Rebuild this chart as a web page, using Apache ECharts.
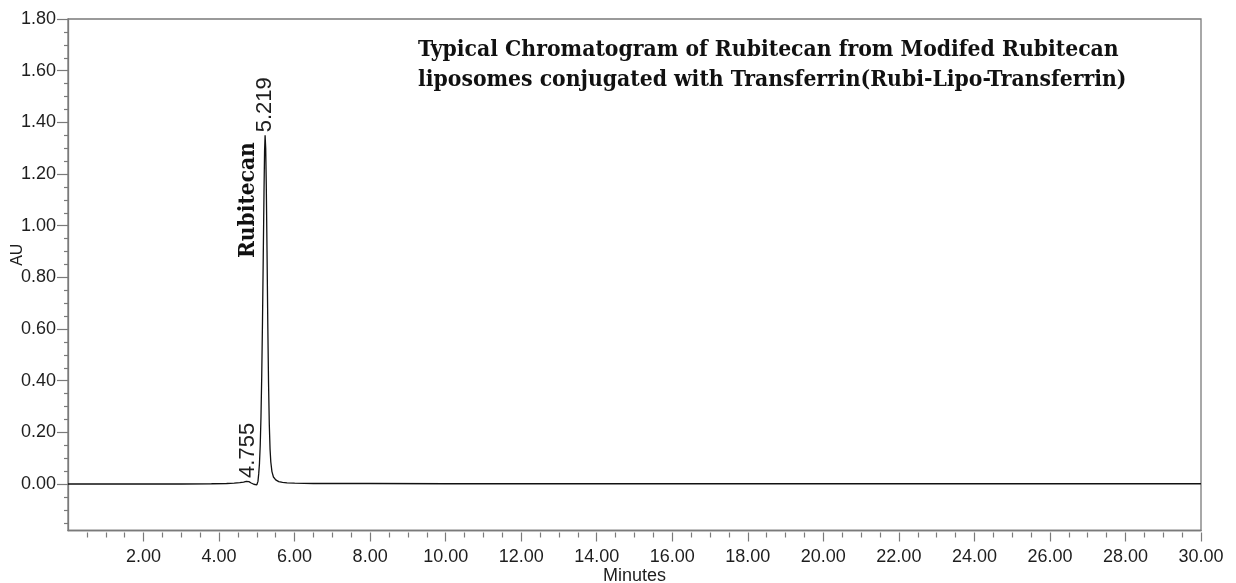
<!DOCTYPE html>
<html>
<head>
<meta charset="utf-8">
<script src="https://cdn.jsdelivr.net/npm/echarts@6/dist/echarts.min.js"></script>
<style>
html,body{margin:0;padding:0;background:#fff;}
#chart{width:1236px;height:583px;}
</style>
</head>
<body>
<div id="chart"></div>
<script>
// ---- data ----
var times = [0, 1.0, 2.0, 3.0, 3.8, 4.2, 4.4, 4.55, 4.65, 4.72, 4.755, 4.79, 4.85, 4.92, 4.97, 5.00, 5.03, 5.05, 5.07, 5.09, 5.11, 5.13, 5.15, 5.17, 5.19, 5.205, 5.219, 5.235, 5.25, 5.27, 5.29, 5.31, 5.33, 5.35, 5.37, 5.40, 5.44, 5.50, 5.58, 5.68, 5.80, 6.00, 6.5, 8.0, 10.0, 14.0, 18.0, 22.0, 26.0, 30.0];
var au    = [0.000, 0.000, 0.000, 0.000, 0.001, 0.002, 0.003, 0.005, 0.007, 0.010, 0.012, 0.009, 0.004, -0.001, -0.003, -0.003, 0.010, 0.040, 0.080, 0.150, 0.260, 0.420, 0.630, 0.880, 1.130, 1.290, 1.350, 1.300, 1.160, 0.900, 0.620, 0.390, 0.230, 0.135, 0.085, 0.048, 0.027, 0.016, 0.009, 0.006, 0.004, 0.003, 0.002, 0.002, 0.001, 0.001, 0.001, 0.001, 0.001, 0.001];

var xTickValues  = [2, 4, 6, 8, 10, 12, 14, 16, 18, 20, 22, 24, 26, 28, 30];
var xMinorValues = [0.5, 1, 1.5, 2.5, 3, 3.5, 4.5, 5, 5.5, 6.5, 7, 7.5, 8.5, 9, 9.5, 10.5, 11, 11.5, 12.5, 13, 13.5, 14.5, 15, 15.5, 16.5, 17, 17.5, 18.5, 19, 19.5, 20.5, 21, 21.5, 22.5, 23, 23.5, 24.5, 25, 25.5, 26.5, 27, 27.5, 28.5, 29, 29.5];
var yTickValues  = [0, 0.2, 0.4, 0.6, 0.8, 1.0, 1.2, 1.4, 1.6, 1.8];
var yMinorValues = [-0.15, -0.10, -0.05, 0.05, 0.10, 0.15, 0.25, 0.30, 0.35, 0.45, 0.50, 0.55, 0.65, 0.70, 0.75, 0.85, 0.90, 0.95, 1.05, 1.10, 1.15, 1.25, 1.30, 1.35, 1.45, 1.50, 1.55, 1.65, 1.70, 1.75];

var peakLabels = [
  {t: 4.755, v: 0.012, text: '4.755'},
  {t: 5.219, v: 1.350, text: '5.219'}
];
var compoundName = 'Rubitecan';
var titleLines = ['Typical Chromatogram of Rubitecan from Modifed Rubitecan',
                  'liposomes conjugated with Transferrin(Rubi-Lipo-Transferrin)'];

var seriesData = times.map(function (t, i) { return [t, au[i]]; });

var AXIS_GRAY = '#7a7a7a';
var TEXT = '#1e1e1e';
var SANS = 'Liberation Sans, Arial, sans-serif';
var SERIF = 'DejaVu Serif Condensed, DejaVu Serif';

var chart = echarts.init(document.getElementById('chart'), null, {renderer: 'canvas'});

var option = {
  animation: false,
  backgroundColor: '#ffffff',
  title: {
    text: titleLines.join('\n'),
    left: 413,
    top: 30,
    textStyle: {
      fontFamily: SERIF,
      fontWeight: 'bold',
      fontSize: 22.7,
      lineHeight: 30,
      color: '#111'
    }
  },
  grid: {
    left: 68, right: 35, top: 19, bottom: 52.5,
    containLabel: false, outerBoundsMode: 'none',
    show: true, borderColor: AXIS_GRAY, borderWidth: 1.3, backgroundColor: 'transparent'
  },
  xAxis: [
    {
      type: 'value', min: 0, max: 30, interval: 2, position: 'bottom',
      axisLine: {show: true, onZero: false, lineStyle: {color: AXIS_GRAY, width: 1.3}},
      axisTick: {show: false}, axisLabel: {show: false}, splitLine: {show: false}
    },
    {
      type: 'value', min: 0, max: 30, interval: 2, position: 'bottom', offset: 2,
      axisLine: {show: false, onZero: false},
      axisTick: {show: true, length: 9, customValues: xTickValues, lineStyle: {color: AXIS_GRAY, width: 1.2}},
      axisLabel: {show: true, customValues: xTickValues, margin: 16, color: TEXT, fontFamily: SANS, fontSize: 18,
        formatter: function (v) { return v.toFixed(2); }},
      splitLine: {show: false},
      name: 'Minutes', nameLocation: 'middle', nameGap: 35, nameMoveOverlap: false,
      nameTextStyle: {color: TEXT, fontFamily: SANS, fontSize: 18}
    },
    {
      type: 'value', min: 0, max: 30, interval: 2, position: 'bottom', offset: 2,
      axisLine: {show: false, onZero: false}, axisLabel: {show: false}, splitLine: {show: false},
      axisTick: {show: true, length: 5, customValues: xMinorValues, lineStyle: {color: AXIS_GRAY, width: 1.2}}
    }
  ],
  yAxis: [
    {
      type: 'value', min: -0.18, max: 1.8, position: 'left',
      axisLine: {show: true, onZero: false, lineStyle: {color: AXIS_GRAY, width: 1.3}},
      axisTick: {show: true, length: 11, customValues: yTickValues, lineStyle: {color: AXIS_GRAY, width: 1.2}},
      axisLabel: {show: true, customValues: yTickValues, margin: 12, color: TEXT, fontFamily: SANS, fontSize: 18,
        formatter: function (v) { return v.toFixed(2); }},
      splitLine: {show: false},
      name: 'AU', nameLocation: 'middle', nameGap: 42, nameRotate: 90, nameMoveOverlap: false,
      nameTextStyle: {color: TEXT, fontFamily: SANS, fontSize: 16, padding: [0, 0, 0, 40]}
    },
    {
      type: 'value', min: -0.18, max: 1.8, position: 'left',
      axisLine: {show: false, onZero: false}, axisLabel: {show: false}, splitLine: {show: false},
      axisTick: {show: true, length: 4, customValues: yMinorValues, lineStyle: {color: AXIS_GRAY, width: 1.2}}
    }
  ],
  series: [{
    type: 'line',
    xAxisIndex: 0, yAxisIndex: 0,
    data: seriesData,
    showSymbol: false,
    smooth: false,
    lineStyle: {color: '#111', width: 1.3},
    z: 3
  }]
};
chart.setOption(option);

// annotations anchored to data through the axis scales
var graphics = [];
peakLabels.forEach(function (p) {
  var px = chart.convertToPixel({xAxisIndex: 0, yAxisIndex: 0}, [p.t, p.v]);
  graphics.push({
    type: 'text', x: px[0], y: px[1] - 3, rotation: Math.PI / 2,
    style: {text: p.text, fontFamily: SANS, fontSize: 22, fill: TEXT, align: 'left', verticalAlign: 'middle'}
  });
});
var apex = chart.convertToPixel({xAxisIndex: 0, yAxisIndex: 0}, [peakLabels[1].t, 0.875]);
graphics.push({
  type: 'text', x: apex[0] - 17, y: apex[1], rotation: Math.PI / 2,
  style: {text: compoundName, fontFamily: SERIF, fontWeight: 'bold', fontSize: 22.5, fill: '#111', align: 'left', verticalAlign: 'middle'}
});
chart.setOption({graphic: graphics});
</script>
</body>
</html>
